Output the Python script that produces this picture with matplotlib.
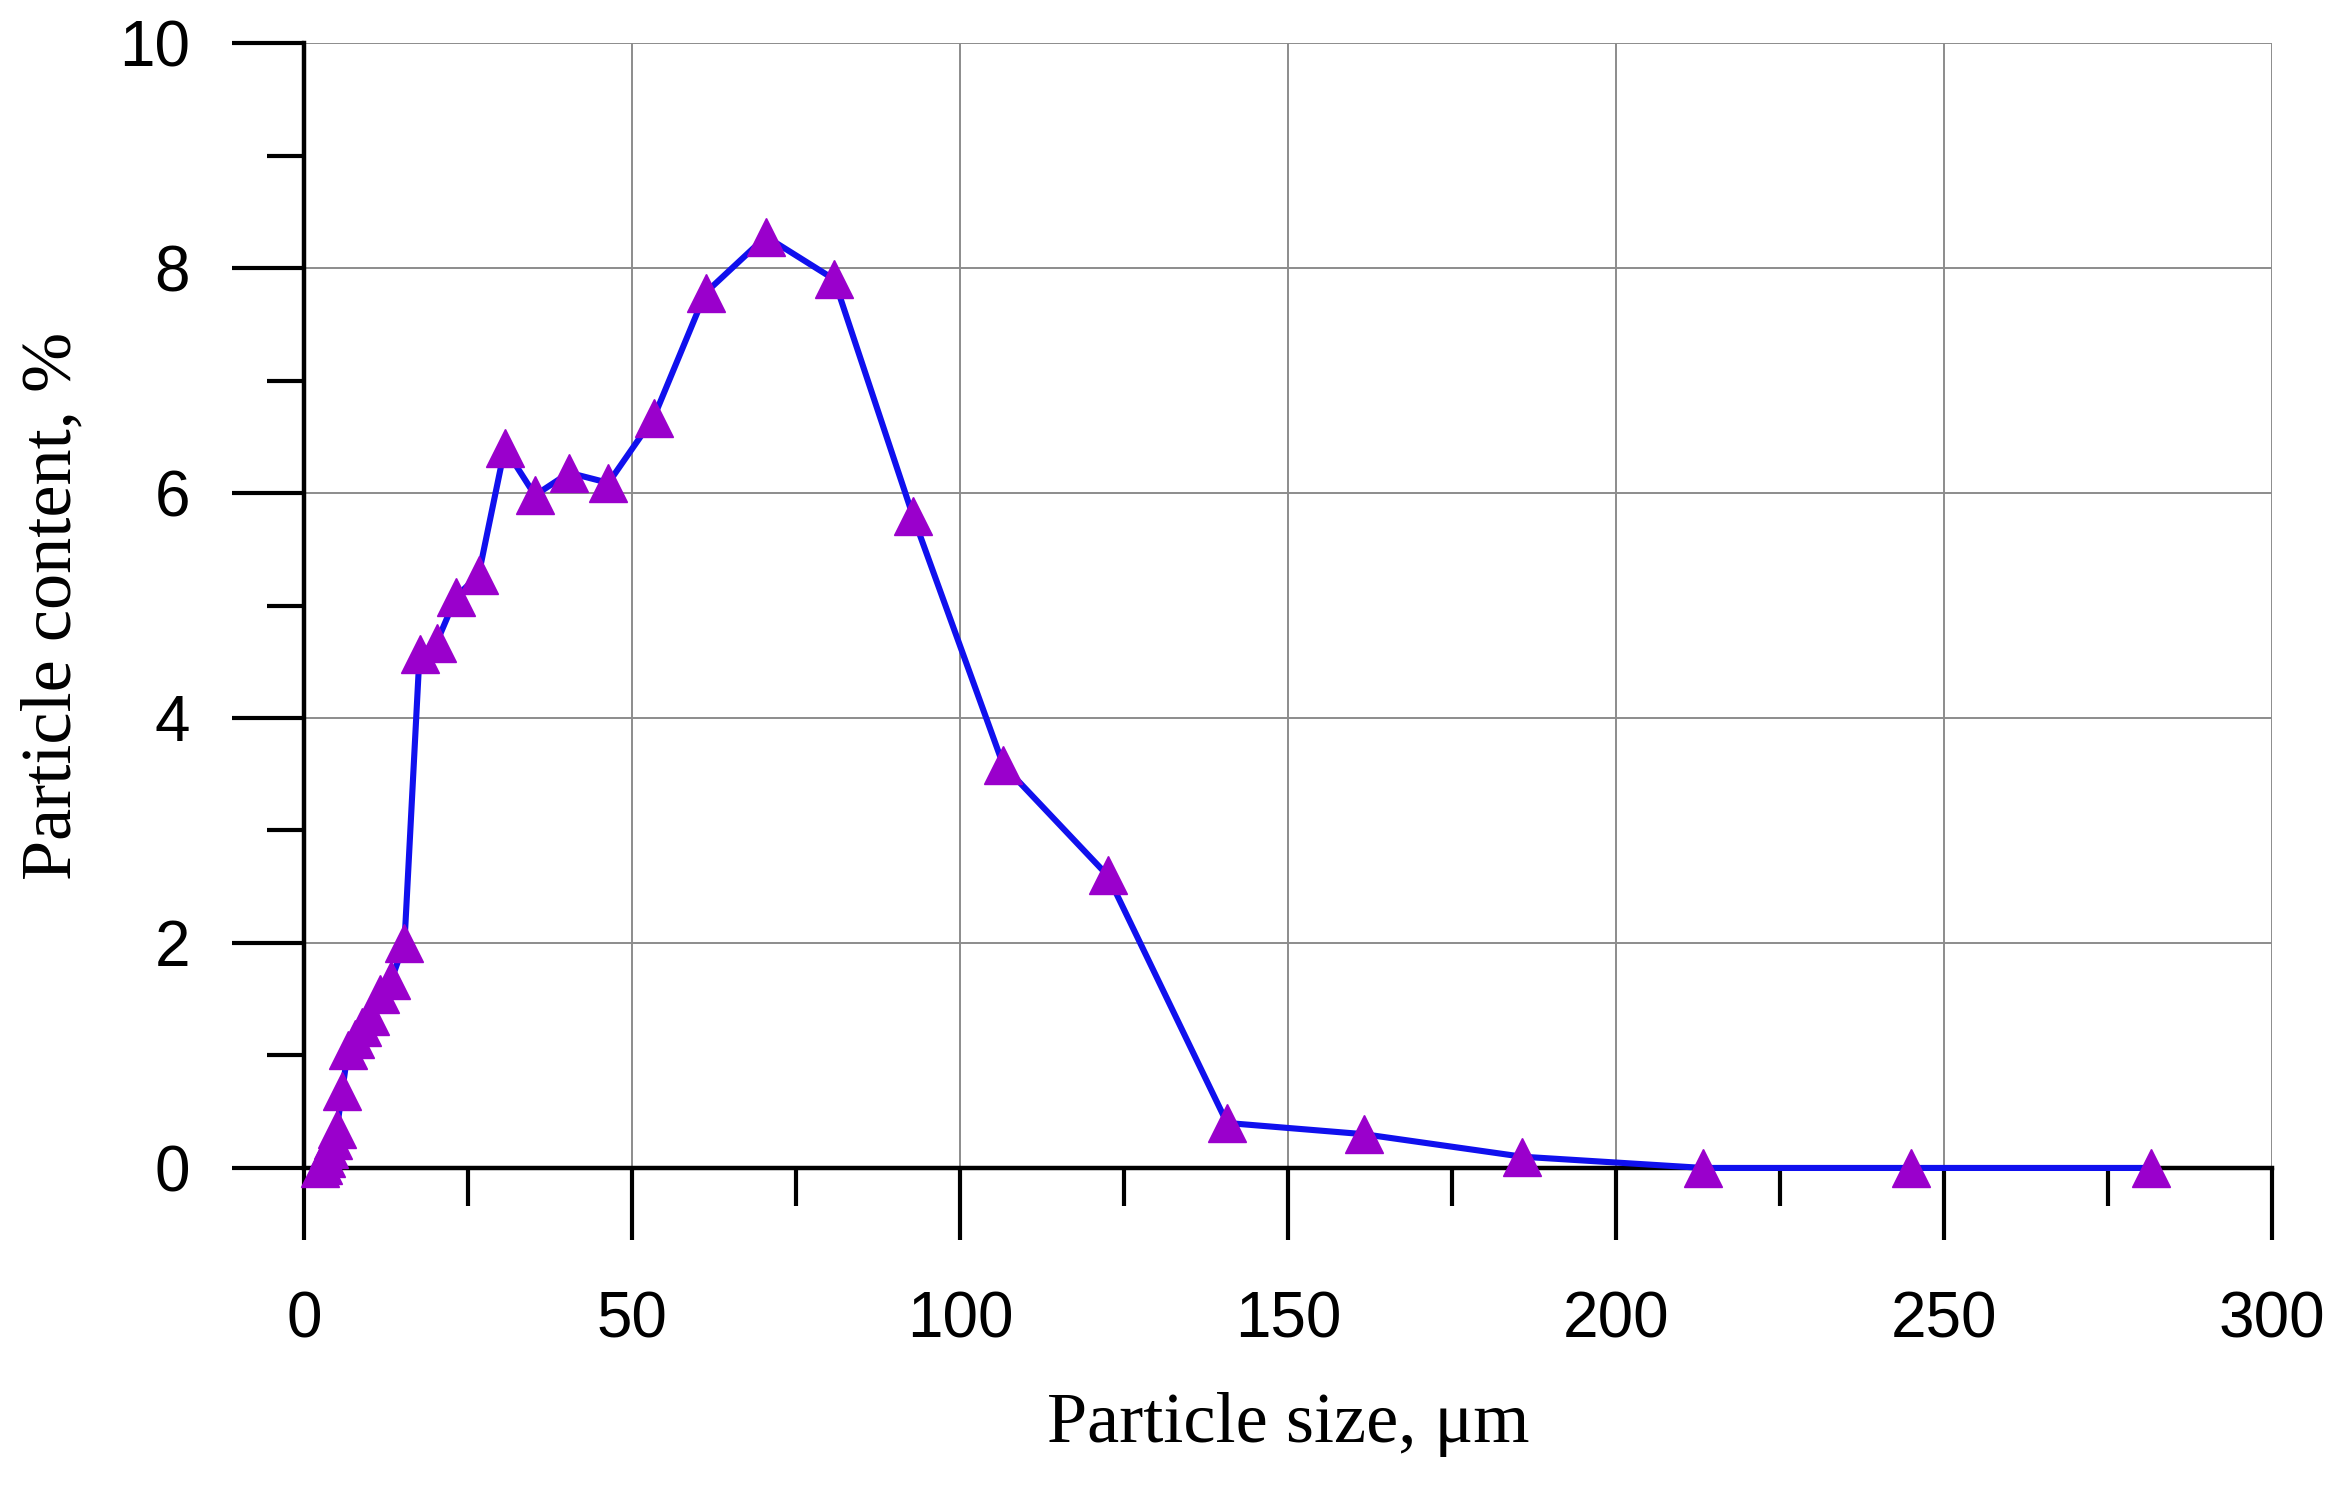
import numpy as np
import matplotlib
matplotlib.use("Agg")
import matplotlib.pyplot as plt
from matplotlib.ticker import MultipleLocator

# particle size distribution
size_um = [2.5, 2.9, 3.3, 3.8, 4.4, 5.0, 5.8, 6.7, 7.7, 8.8, 10.1, 11.6, 13.3,
           15.3, 17.6, 20.2, 23.2, 26.6, 30.6, 35.2, 40.4, 46.4, 53.3, 61.2,
           70.4, 80.8, 92.8, 106.6, 122.5, 140.7, 161.6, 185.7, 213.3, 245.0,
           281.5]
content_pct = [0.0, 0.03, 0.09, 0.17, 0.25, 0.35, 0.68, 1.05, 1.15, 1.25, 1.35,
               1.55, 1.67, 2.0, 4.57, 4.67, 5.08, 5.27, 6.4, 5.98, 6.18, 6.09,
               6.67, 7.78, 8.28, 7.9, 5.8, 3.58, 2.6, 0.4, 0.3, 0.1, 0.0, 0.0,
               0.0]

x_ticks = [0, 50, 100, 150, 200, 250, 300]
y_ticks = [0, 2, 4, 6, 8, 10]

fig = plt.figure(figsize=(23.41, 14.85), dpi=100)
ax = fig.add_axes([0.1299, 0.2135, 0.8406, 0.7575])

ax.plot(size_um, content_pct, color="#1010ee", lw=4.4, zorder=3,
        clip_on=False)
ax.plot(size_um, content_pct, ls="none", marker="^", ms=27,
        color="#9a00cc", mec="#9a00cc", zorder=4, clip_on=False)

ax.set_xlim(0, 300)
ax.set_ylim(0, 10)
ax.set_xticks(x_ticks)
ax.set_yticks(y_ticks)
ax.xaxis.set_minor_locator(MultipleLocator(25))
ax.yaxis.set_minor_locator(MultipleLocator(1))

ax.grid(True, which="major", color="#8c8c8c", lw=1.4, zorder=0)
for s in ["top", "right"]:
    ax.spines[s].set_visible(False)
for s in ["left", "bottom"]:
    ax.spines[s].set_linewidth(3.2)
    ax.spines[s].set_zorder(2)

ax.tick_params(which="major", direction="out", length=52, width=3.0,
               labelsize=46, pad=30)
ax.tick_params(axis="x", which="major", pad=36)
ax.tick_params(which="minor", direction="out", length=27, width=3.0)
for lab in ax.get_xticklabels() + ax.get_yticklabels():
    lab.set_fontfamily("Liberation Sans")

ax.set_xlabel("Particle size, μm", family="Liberation Serif", fontsize=52,
              labelpad=30)
ax.set_ylabel("Particle content, %", family="Liberation Serif", fontsize=52,
              labelpad=24)

fig.savefig("out.png", dpi=100, facecolor="white")
